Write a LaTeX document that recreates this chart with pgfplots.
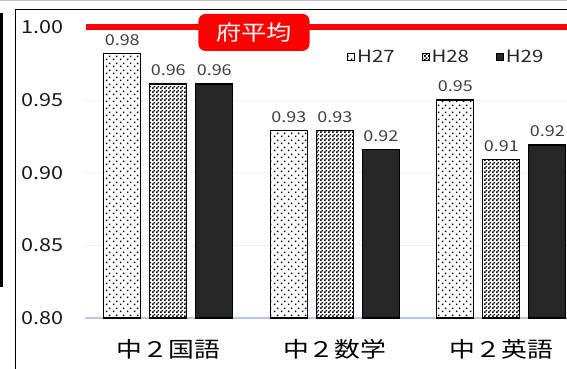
\documentclass[border=0pt]{standalone}
\usepackage{pgfplots}
\pgfplotsset{compat=1.18}
\usepackage{fontspec}
\setmainfont[FakeStretch=1.2]{Noto Sans CJK JP}
\usetikzlibrary{patterns}

% fill patterns for the bars
\pgfdeclarepatternformonly{sparsedots}{\pgfqpoint{0pt}{0pt}}{\pgfqpoint{7pt}{7pt}}{\pgfqpoint{7pt}{7pt}}{%
  \pgfpathrectangle{\pgfqpoint{1pt}{1pt}}{\pgfqpoint{1.6pt}{1.6pt}}%
  \pgfpathrectangle{\pgfqpoint{4.5pt}{4.5pt}}{\pgfqpoint{1.6pt}{1.6pt}}%
  \pgfusepath{fill}}
\pgfdeclarepatternformonly{checker}{\pgfqpoint{0pt}{0pt}}{\pgfqpoint{4pt}{4pt}}{\pgfqpoint{4pt}{4pt}}{%
  \pgfpathrectangle{\pgfqpoint{0pt}{0pt}}{\pgfqpoint{2pt}{2pt}}%
  \pgfpathrectangle{\pgfqpoint{2pt}{2pt}}{\pgfqpoint{2pt}{2pt}}%
  \pgfusepath{fill}}

\definecolor{darkbar}{HTML}{262626}
\definecolor{labelgray}{HTML}{404040}
\definecolor{gridc}{HTML}{EEF1F6}
\definecolor{basec}{HTML}{B4C7E7}

\pgfplotsset{
  barlabel/.style={
    nodes near coords={\pgfmathprintnumber[fixed,fixed zerofill,precision=2,assume math mode=true]{\pgfplotspointmeta}},
    every node near coord/.append style={font=\fontsize{15}{17}\selectfont, text=labelgray, yshift=4pt},
  },
}

\begin{document}
\begin{tikzpicture}[x=1pt,y=1pt]
\path[use as bounding box] (0pt,0pt) rectangle (567pt,369pt);
\clip (0pt,0pt) rectangle (567pt,369pt);
% surrounding frames
\draw[gray!50, line width=1pt] (-5pt,368.5pt) -- (572pt,368.5pt);
\fill[black] (0pt,82pt) rectangle (3pt,356pt);
\draw[black, line width=1.3pt] (15.5pt,-10pt) -- (15.5pt,359.5pt) -- (580pt,359.5pt);

\begin{axis}[
  at={(85pt,51pt)}, anchor=south west, scale only axis,
  width=499.5pt, height=290.5pt,
  xmin=-0.5, xmax=2.5, ymin=0.8, ymax=1.0,
  clip=false,
  ybar=9pt, bar width=37pt,
  axis line style={draw=none},
  major tick length=0pt,
  ytick={0.80,0.85,0.90,0.95,1.00},
  yticklabel={\pgfmathprintnumber[fixed,fixed zerofill,precision=2,assume math mode=true]{\tick}},
  yticklabel style={anchor=east, xshift=-18pt, font=\fontsize{18}{20}\selectfont, text=black!90},
  ymajorgrids, grid style={gridc, line width=0.8pt},
  extra y ticks={0.8}, extra y tick labels={},
  extra y tick style={grid style={basec, line width=1.5pt}},
  xtick={0,1,2},
  xticklabels={中２国語,中２数学,中２英語},
  xticklabel style={font=\fontsize{21.5}{24}\selectfont, yshift=-18pt, text=black},
  legend style={at={(0.519,0.898)}, anchor=west, draw=none, fill=none,
    font=\fontsize{17}{19}\selectfont, text=black!85,
    /tikz/every even column/.append style={column sep=25pt}},
  legend columns=3,
  legend image code/.code={\draw[#1, line width=0.8pt] (0pt,-3.5pt) rectangle (7pt,3.5pt);},
]
\addplot[barlabel, draw=black, line width=1.3pt, fill=white, postaction={pattern=sparsedots}]
  coordinates {(0,0.982) (1,0.929) (2,0.950)};
\addlegendentry{H27}
\addplot[barlabel, draw=black, line width=1.3pt, fill=white, postaction={pattern=checker}]
  coordinates {(0,0.961) (1,0.929) (2,0.909)};
\addlegendentry{H28}
\addplot[barlabel, draw=black, line width=1.3pt, fill=darkbar]
  coordinates {(0,0.961) (1,0.916) (2,0.919)};
\addlegendentry{H29}
% prefecture average
\addplot[sharp plot, red, line width=6pt, forget plot] coordinates {(-0.494,1.0) (2.9,1.0)};
\node[fill=red, rounded corners=7pt, text=white, minimum width=111pt, minimum height=37pt,
  inner sep=0pt, font=\fontsize{21}{24}\selectfont] at (axis cs:0.515,0.9966) {府平均};
\end{axis}
\end{tikzpicture}
\end{document}
